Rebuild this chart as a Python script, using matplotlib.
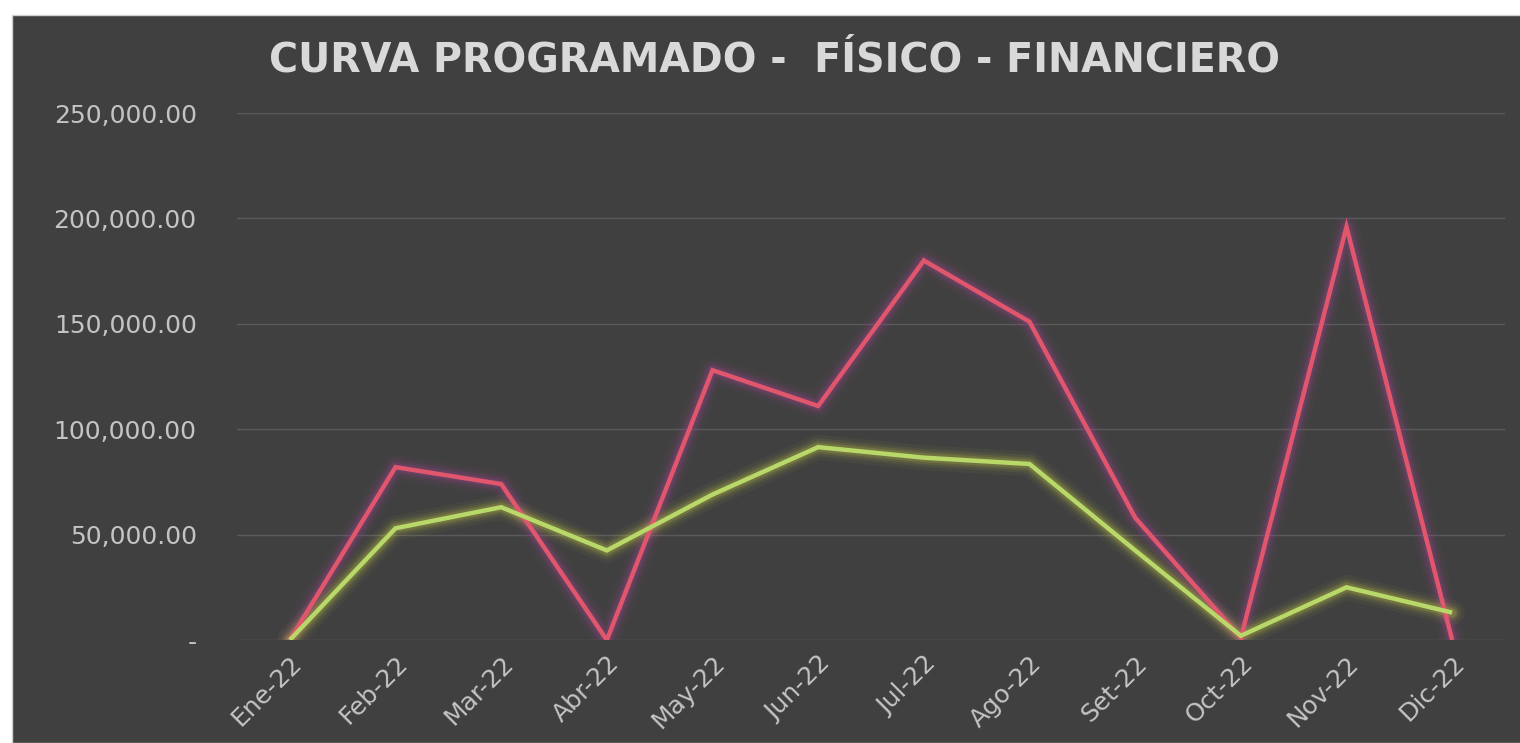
import matplotlib
matplotlib.use("Agg")
import matplotlib.pyplot as plt
from matplotlib.patches import Rectangle
from matplotlib.ticker import FuncFormatter

months = ["Ene-22", "Feb-22", "Mar-22", "Abr-22", "May-22", "Jun-22",
          "Jul-22", "Ago-22", "Set-22", "Oct-22", "Nov-22", "Dic-22"]
financiero = [0, 82000, 74000, 0, 128000, 111000,
              180000, 151000, 58000, 1000, 196000, 0]
fisico = [0, 53000, 63000, 42500, 69000, 91500,
          86500, 83500, 42500, 2000, 25000, 13000]
y_ticks = [0, 50000, 100000, 150000, 200000, 250000]
title = "CURVA PROGRAMADO -  FÍSICO - FINANCIERO"

BG = "#404040"
TXT = "#c4c4c4"
FONT = "DejaVu Sans"

fig = plt.figure(figsize=(15.2, 7.43), dpi=100, facecolor="white")
fig.add_artist(Rectangle((12 / 1520, 0), 1, 1 - 15 / 743,
                         transform=fig.transFigure, facecolor=BG,
                         edgecolor="#d0d0d0", linewidth=1.0, zorder=-10))

ax = fig.add_axes([237 / 1520, 1 - 640 / 743, (1505 - 237) / 1520, (640 - 113) / 743])
ax.patch.set_visible(False)

x = list(range(len(months)))


def glow_line(values, core, halo):
    for lw, a in [(18, 0.05), (13, 0.08), (9.5, 0.12), (6.5, 0.18)]:
        ax.plot(x, values, color=halo, lw=lw, alpha=a,
                solid_joinstyle="round", solid_capstyle="round", zorder=2)
    ax.plot(x, values, color=core, lw=3.2, solid_joinstyle="miter",
            solid_capstyle="butt", zorder=3)


glow_line(financiero, "#e0566c", "#a8409a")
glow_line(fisico, "#b8d86a", "#c8d040")

ax.set_xlim(-0.5, len(months) - 0.5)
ax.set_ylim(0, 250000)
ax.set_yticks(y_ticks)
ax.yaxis.set_major_formatter(FuncFormatter(
    lambda v, p: "-" if v == 0 else f"{v:,.2f}"))
ax.set_xticks(x)
ax.set_xticklabels(months, rotation=45, ha="right", rotation_mode="anchor")

for lbl in ax.get_yticklabels() + ax.get_xticklabels():
    lbl.set_fontfamily(FONT)
    lbl.set_fontsize(18)
    lbl.set_color(TXT)

ax.tick_params(axis="both", length=0)
ax.tick_params(axis="y", pad=29)
ax.tick_params(axis="x", pad=8)
ax.grid(axis="y", color="#5a5a5a", linewidth=1.0, zorder=1)
ax.set_axisbelow(True)
for s in ax.spines.values():
    s.set_visible(False)

fig.text(775 / 1520, 1 - 61 / 743, title, ha="center", va="center",
         fontfamily=FONT, fontweight="bold", fontsize=28.5, color="#d9d9d9")

fig.savefig("out.png", dpi=100, facecolor="white")
